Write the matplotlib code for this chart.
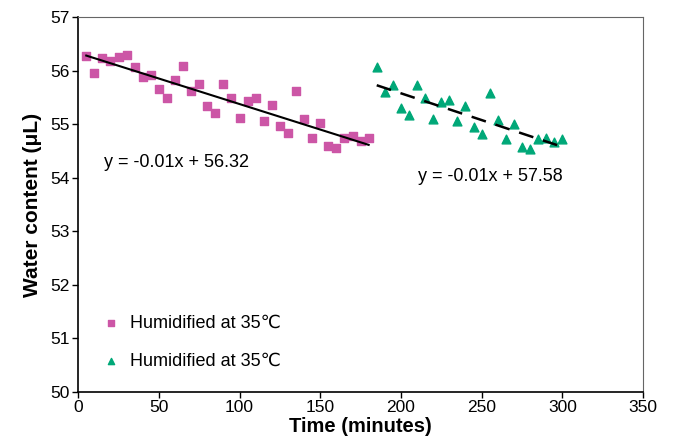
import matplotlib.pyplot as plt
import numpy as np

plt.rcParams["font.family"] = ["Liberation Sans", "DejaVu Sans"]

# first humidification run
time_a = np.arange(5, 181, 5)
water_a = [56.28, 55.95, 56.23, 56.18, 56.25, 56.30, 56.06, 55.88, 55.92, 55.66,
           55.48, 55.83, 56.09, 55.62, 55.75, 55.33, 55.20, 55.75, 55.49, 55.12,
           55.43, 55.48, 55.06, 55.35, 54.97, 54.83, 55.61, 55.10, 54.75, 55.03,
           54.59, 54.55, 54.75, 54.78, 54.69, 54.75]

# second humidification run
time_b = np.arange(185, 301, 5)
water_b = [56.07, 55.60, 55.74, 55.31, 55.17, 55.74, 55.48, 55.10, 55.42, 55.46,
           55.05, 55.33, 54.95, 54.82, 55.59, 55.08, 54.73, 55.00, 54.58, 54.54,
           54.73, 54.75, 54.67, 54.73]

legend_labels = ["Humidified at 35\u2103", "Humidified at 35\u2103"]
eq_a = "y = -0.01x + 56.32"
eq_b = "y = -0.01x + 57.58"

pink = "#cc56a6"
green = "#00a878"

fig = plt.figure(figsize=(6.74, 4.48), dpi=100)
ax = fig.add_axes([0.116, 0.125, 0.838, 0.837])

ax.scatter(time_a, water_a, marker="s", s=34, color=pink, zorder=3)
ax.scatter(time_b, water_b, marker="^", s=40, color=green, zorder=3)

# trend lines
ka, ba = np.polyfit(time_a, water_a, 1)
kb, bb = np.polyfit(time_b, water_b, 1)
ax.plot([time_a[0], time_a[-1]], [ka * time_a[0] + ba, ka * time_a[-1] + ba],
        color="black", lw=1.5, zorder=4)
ax.plot([time_b[0], time_b[-1]], [kb * time_b[0] + bb, kb * time_b[-1] + bb],
        color="black", lw=1.8, ls=(0, (6, 4)), zorder=4)

ax.text(16, 54.28, eq_a, fontsize=13, va="center")
ax.text(210.5, 54.02, eq_b, fontsize=13, va="center")

# legend-style entries (smaller markers than the data)
ax.scatter([], [], marker="s", s=16, color=pink, label=legend_labels[0])
ax.scatter([], [], marker="^", s=20, color=green, label=legend_labels[1])

ax.set_xlim(0, 350)
ax.set_ylim(50, 57)
ax.set_xticks(np.arange(0, 351, 50))
ax.set_yticks(np.arange(50, 58, 1))
ax.tick_params(labelsize=12.5, direction="out", length=4, width=1, pad=2)
ax.set_xlabel("Time (minutes)", fontsize=14.5, fontweight="bold", labelpad=1)
ax.set_ylabel("Water content (\u03bcL)", fontsize=15, fontweight="bold", labelpad=6)

for side in ["top", "right"]:
    ax.spines[side].set_color("#666666")
for side in ["left", "bottom"]:
    ax.spines[side].set_linewidth(1.2)

ax.legend(loc="lower left", bbox_to_anchor=(0.005, 0.015), frameon=False,
          fontsize=13, handletextpad=0.3, labelspacing=1.17, scatterpoints=1,
          handlelength=1.5)

plt.savefig("out.png", dpi=100)
